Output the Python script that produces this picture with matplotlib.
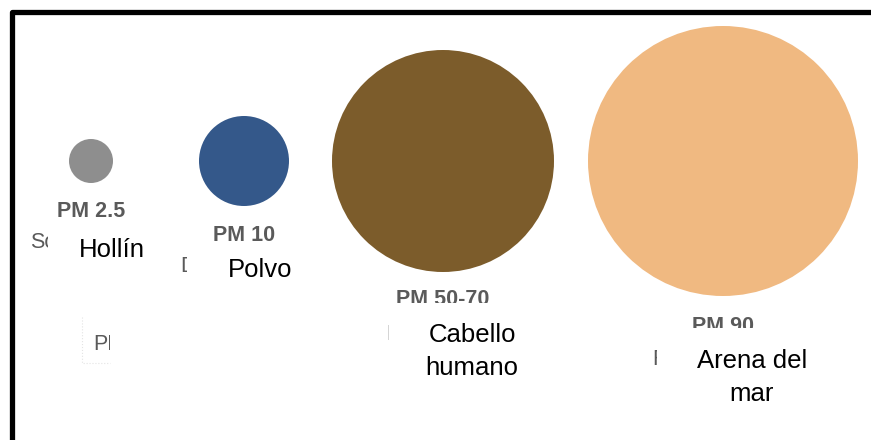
import matplotlib
matplotlib.use("Agg")
import matplotlib.pyplot as plt
from matplotlib.patches import Circle
from matplotlib.transforms import Bbox

# --- Data ---
pm_labels = ["PM 2.5", "PM 10", "PM 50-70", "PM 90"]
names = ["Hollín", "Polvo", "Cabello\nhumano", "Arena del\nmar"]
hidden_names = ["Soot", "Dust", "Hu", "Fi"]   # only the first letters show
radii_px = [22, 45, 111, 135]
colors = ["#8e8e8e", "#34588a", "#7c5c2b", "#f0b981"]

# --- Layout (pixel coordinates, y grows downward) ---
W, H = 871, 440
cx = [91, 244, 443, 723]
cy = 161
pm_top = [202, 226, 290, 317]        # top of the grey PM caption
pm_clip = [217, 241, 303, 328]       # caption is cut off here
hid_x = [30, 180, 386, 652]          # left edge of the cut-off grey name
hid_base = [248, 272, 340, 365]
hid_clip = [48, 187, 389, 657]
name_x = [112, 260, 472, 752]
name_base = [257, 277, 342, 368]
line_step = 33


def pix_box(x0, y0, x1, y1):
    # clip box in display pixels (origin bottom-left) from top-left pixel coords
    return Bbox.from_extents(x0, H - y1, x1, H - y0)


def clipped_text(ax, x, y, s, box, **kw):
    t = ax.text(x, y, s, va="baseline", clip_on=True, **kw)
    t.set_clip_path(None)
    t.set_clip_box(box)
    return t


def main():
    fig = plt.figure(figsize=(W / 100, H / 100), dpi=100)
    ax = fig.add_axes([0, 0, 1, 1])
    ax.set_xlim(0, W)
    ax.set_ylim(H, 0)
    ax.set_aspect("equal")
    ax.axis("off")

    # frame of the screenshot: only top and left edges are visible
    ax.plot([12, 12, W + 5], [H + 5, 12.5, 12.5], color="black", lw=3.8,
            solid_joinstyle="round", solid_capstyle="butt", clip_on=False)

    grey = dict(fontsize=15.5, family="Liberation Sans", color="#5a5a5a")
    for i in range(len(pm_labels)):
        ax.add_patch(Circle((cx[i], cy), radii_px[i], color=colors[i], lw=0))

        # grey caption and name, partly hidden behind the overlay
        clipped_text(ax, cx[i], pm_top[i] + 15, pm_labels[i], pix_box(0, 0, W, pm_clip[i]),
                     ha="center", fontweight="bold", **grey)
        clipped_text(ax, hid_x[i], hid_base[i], hidden_names[i], pix_box(0, 0, hid_clip[i], H),
                     ha="left", **grey)

        # black overlay names
        for k, line in enumerate(names[i].split("\n")):
            ax.text(name_x[i], name_base[i] + k * line_step, line, ha="center",
                    va="baseline", fontsize=18.5, family="Liberation Sans", color="black")

    # small cut-off box on the left
    ax.plot([82, 82, 110], [317, 363, 363], color="#e4e4e4", lw=0.8, ls=":")
    clipped_text(ax, 93, 350, "PM", pix_box(0, 0, 110, H), ha="left", **grey)

    fig.savefig("out.png", dpi=100, facecolor="white")


if __name__ == "__main__":
    main()
